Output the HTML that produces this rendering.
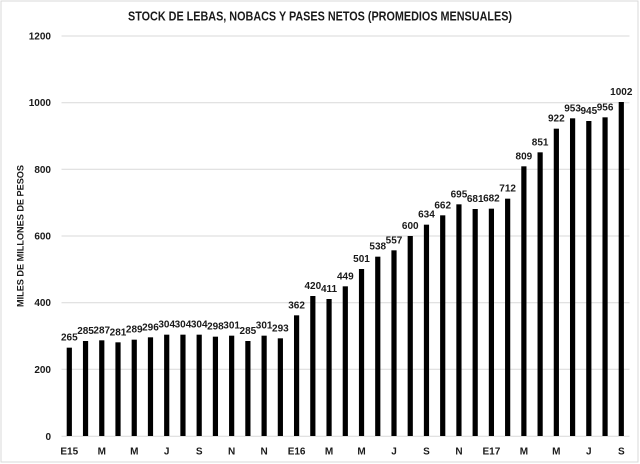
<!DOCTYPE html>
<html><head><meta charset="utf-8"><style>
html,body{margin:0;padding:0;background:#fff;}
svg{display:block;}
text{font-family:"Liberation Sans",Arial,sans-serif;font-weight:bold;}
</style></head><body>
<svg width="640" height="464" viewBox="0 0 640 464" xmlns="http://www.w3.org/2000/svg">
<rect x="0" y="0" width="640" height="464" fill="#fff"/>
<rect x="1" y="1" width="637" height="461" fill="none" stroke="#d9d9d9" stroke-width="1"/>
<text x="320" y="20.5" font-size="13" text-anchor="middle" fill="#1a1a1a" textLength="384" lengthAdjust="spacingAndGlyphs">STOCK  DE LEBAS, NOBACS Y PASES NETOS (PROMEDIOS MENSUALES)</text>
<g stroke="#d9d9d9" stroke-width="1">
<line x1="61.5" y1="36" x2="629.5" y2="36"/>
<line x1="61.5" y1="102.7" x2="629.5" y2="102.7"/>
<line x1="61.5" y1="169.3" x2="629.5" y2="169.3"/>
<line x1="61.5" y1="236" x2="629.5" y2="236"/>
<line x1="61.5" y1="302.7" x2="629.5" y2="302.7"/>
<line x1="61.5" y1="369.3" x2="629.5" y2="369.3"/>
<line x1="61.5" y1="436.3" x2="629.5" y2="436.3"/>
</g>
<g font-size="10" fill="#1a1a1a" text-anchor="end">
<text x="51" y="39.5">1200</text>
<text x="51" y="106.2">1000</text>
<text x="51" y="172.8">800</text>
<text x="51" y="239.5">600</text>
<text x="51" y="306.2">400</text>
<text x="51" y="372.8">200</text>
<text x="51" y="439.8">0</text>
</g>
<text transform="translate(23.3,236) rotate(-90)" font-size="9.5" text-anchor="middle" fill="#1a1a1a" textLength="142" lengthAdjust="spacingAndGlyphs">MILES DE MILLONES DE PESOS</text>
<g fill="#000">
<rect x="66.70" y="347.67" width="5.2" height="88.33"/>
<rect x="82.94" y="341.00" width="5.2" height="95.00"/>
<rect x="99.17" y="340.33" width="5.2" height="95.67"/>
<rect x="115.41" y="342.33" width="5.2" height="93.67"/>
<rect x="131.64" y="339.67" width="5.2" height="96.33"/>
<rect x="147.88" y="337.33" width="5.2" height="98.67"/>
<rect x="164.11" y="334.67" width="5.2" height="101.33"/>
<rect x="180.35" y="334.67" width="5.2" height="101.33"/>
<rect x="196.58" y="334.67" width="5.2" height="101.33"/>
<rect x="212.82" y="336.67" width="5.2" height="99.33"/>
<rect x="229.05" y="335.67" width="5.2" height="100.33"/>
<rect x="245.29" y="341.00" width="5.2" height="95.00"/>
<rect x="261.52" y="335.67" width="5.2" height="100.33"/>
<rect x="277.76" y="338.33" width="5.2" height="97.67"/>
<rect x="293.99" y="315.33" width="5.2" height="120.67"/>
<rect x="310.23" y="296.00" width="5.2" height="140.00"/>
<rect x="326.46" y="299.00" width="5.2" height="137.00"/>
<rect x="342.70" y="286.33" width="5.2" height="149.67"/>
<rect x="358.93" y="269.00" width="5.2" height="167.00"/>
<rect x="375.17" y="256.67" width="5.2" height="179.33"/>
<rect x="391.40" y="250.33" width="5.2" height="185.67"/>
<rect x="407.64" y="236.00" width="5.2" height="200.00"/>
<rect x="423.87" y="224.67" width="5.2" height="211.33"/>
<rect x="440.11" y="215.33" width="5.2" height="220.67"/>
<rect x="456.34" y="204.33" width="5.2" height="231.67"/>
<rect x="472.58" y="209.00" width="5.2" height="227.00"/>
<rect x="488.81" y="208.67" width="5.2" height="227.33"/>
<rect x="505.05" y="198.67" width="5.2" height="237.33"/>
<rect x="521.28" y="166.33" width="5.2" height="269.67"/>
<rect x="537.52" y="152.33" width="5.2" height="283.67"/>
<rect x="553.75" y="128.67" width="5.2" height="307.33"/>
<rect x="569.99" y="118.33" width="5.2" height="317.67"/>
<rect x="586.22" y="121.00" width="5.2" height="315.00"/>
<rect x="602.46" y="117.33" width="5.2" height="318.67"/>
<rect x="618.69" y="102.00" width="5.2" height="334.00"/>
</g>
<g font-size="10" fill="#1a1a1a" text-anchor="middle">
<text x="69.30" y="340.67">265</text>
<text x="85.54" y="334.00">285</text>
<text x="101.77" y="333.33">287</text>
<text x="118.01" y="335.33">281</text>
<text x="134.24" y="332.67">289</text>
<text x="150.48" y="330.33">296</text>
<text x="166.71" y="327.67">304</text>
<text x="182.95" y="327.67">304</text>
<text x="199.18" y="327.67">304</text>
<text x="215.42" y="329.67">298</text>
<text x="231.65" y="328.67">301</text>
<text x="247.89" y="334.00">285</text>
<text x="264.12" y="328.67">301</text>
<text x="280.36" y="331.33">293</text>
<text x="296.59" y="308.33">362</text>
<text x="312.83" y="289.00">420</text>
<text x="329.06" y="292.00">411</text>
<text x="345.30" y="279.33">449</text>
<text x="361.53" y="262.00">501</text>
<text x="377.77" y="249.67">538</text>
<text x="394.00" y="243.33">557</text>
<text x="410.24" y="229.00">600</text>
<text x="426.47" y="217.67">634</text>
<text x="442.71" y="208.33">662</text>
<text x="458.94" y="197.33">695</text>
<text x="475.18" y="202.00">681</text>
<text x="491.41" y="201.67">682</text>
<text x="507.65" y="191.67">712</text>
<text x="523.88" y="159.33">809</text>
<text x="540.12" y="145.33">851</text>
<text x="556.35" y="121.67">922</text>
<text x="572.59" y="111.33">953</text>
<text x="588.82" y="114.00">945</text>
<text x="605.06" y="110.33">956</text>
<text x="621.29" y="95.00">1002</text>
</g>
<g font-size="10" fill="#1a1a1a" text-anchor="middle">
<text x="69.30" y="454.5">E15</text>
<text x="101.77" y="454.5">M</text>
<text x="134.24" y="454.5">M</text>
<text x="166.71" y="454.5">J</text>
<text x="199.18" y="454.5">S</text>
<text x="231.65" y="454.5">N</text>
<text x="264.12" y="454.5">N</text>
<text x="296.59" y="454.5">E16</text>
<text x="329.06" y="454.5">M</text>
<text x="361.53" y="454.5">M</text>
<text x="394.00" y="454.5">J</text>
<text x="426.47" y="454.5">S</text>
<text x="458.94" y="454.5">N</text>
<text x="491.41" y="454.5">E17</text>
<text x="523.88" y="454.5">M</text>
<text x="556.35" y="454.5">M</text>
<text x="588.82" y="454.5">J</text>
<text x="621.29" y="454.5">S</text>
</g>
</svg>
</body></html>
